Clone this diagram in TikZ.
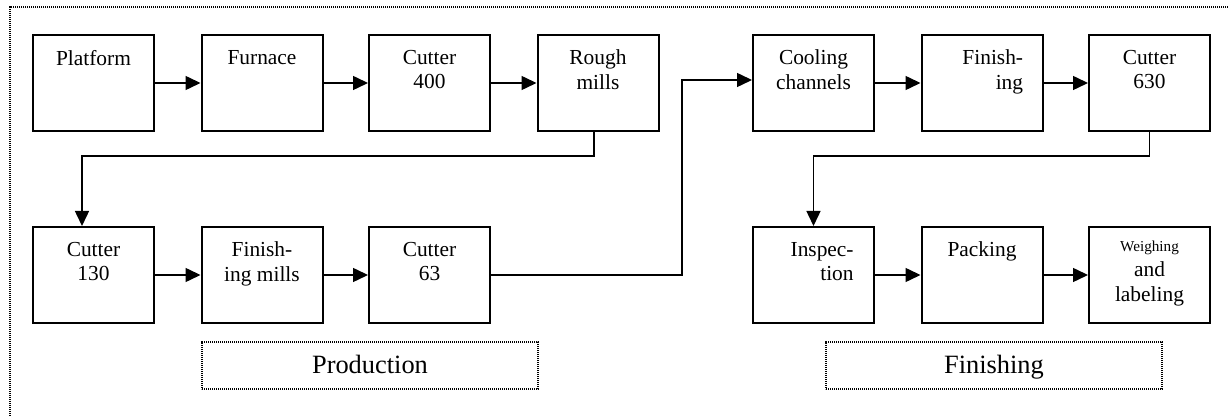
\documentclass[tikz,border=0pt]{standalone}
\usepackage{fontspec}
\setmainfont{Liberation Serif}
\usetikzlibrary{arrows.meta}

\tikzset{
  box/.style={draw, line width=1pt, minimum width=60.5pt, minimum height=48pt, inner sep=0pt},
  boxtext/.style={anchor=north, yshift=-7.8pt, align=center, inner sep=0pt,
    font=\fontsize{10.7}{12.4}\selectfont},
  conn/.style={line width=0.75pt, -{Triangle[length=7.5pt, width=7pt]}},
  tag/.style={draw, dash pattern=on 0.55pt off 0.45pt, line width=0.75pt, minimum width=168pt,
    minimum height=23.5pt, text height=1em, text depth=0.2em, font=\fontsize{13.2}{15}\selectfont},
  frame/.style={dash pattern=on 0.55pt off 0.45pt, line width=0.75pt}
}

\begin{document}
\begin{tikzpicture}[x=0.5pt, y=-0.5pt]
    \useasboundingbox (0,0) rectangle (1228,416);

    % outer frame
    \draw[frame] (1228,7) -- (10,7) -- (10,416);

    % production, top row
    \node[box] (plat) at (93.5,83) {};
    \node[boxtext] (plat-t) at (plat.north) {Platform};
    \node[box] (furn) at (262,83) {};
    \node[boxtext] (furn-t) at (furn.north) {Furnace};
    \node[box] (c400) at (429.5,83) {};
    \node[boxtext] (c400-t) at (c400.north) {Cutter\\400};
    \node[box] (rough) at (598,83) {};
    \node[boxtext] (rough-t) at (rough.north) {Rough\\mills};

    % production, bottom row
    \node[box] (c130) at (93.5,275) {};
    \node[boxtext] (c130-t) at (c130.north) {Cutter\\130};
    \node[box] (fmill) at (262,275) {};
    \node[boxtext] (fmill-t) at (fmill.north) {Finish-\\ing mills};
    \node[box] (c63) at (429.5,275) {};
    \node[boxtext] (c63-t) at (c63.north) {Cutter\\63};

    % finishing, top row
    \node[box] (cool) at (813.5,83) {};
    \node[boxtext] (cool-t) at (cool.north) {Cooling\\channels};
    \node[box] (fin) at (982,83) {};
    \node[boxtext, anchor=north east, align=right, xshift=-10pt] (fin-t) at (fin.north east) {Finish-\\ing};
    \node[box] (c630) at (1149.5,83) {};
    \node[boxtext] (c630-t) at (c630.north) {Cutter\\630};

    % finishing, bottom row
    \node[box] (insp) at (813.5,275) {};
    \node[boxtext, anchor=north east, align=right, xshift=-10.5pt] (insp-t) at (insp.north east) {Inspec-\\tion};
    \node[box] (pack) at (982,275) {};
    \node[boxtext] (pack-t) at (pack.north) {Packing};
    \node[box] (weigh) at (1149.5,275) {};
    \node[boxtext, yshift=0.3pt] (weigh-t) at (weigh.north) {{\fontsize{7.6}{9}\selectfont Weighing}\\and\\labeling};

    % arrows
    \draw[conn] (plat) -- (furn);
    \draw[conn] (furn) -- (c400);
    \draw[conn] (c400) -- (rough);
    \draw[conn] ([xshift=-2pt]rough.south) -- ++(0,-12pt) -| ([xshift=-5.75pt]c130.north);
    \draw[conn] (c130) -- (fmill);
    \draw[conn] (fmill) -- (c63);
    \draw[conn] (c63.east) -- ++(95.5pt,0) |- ([yshift=1.5pt]cool.west);
    \draw[conn] (cool) -- (fin);
    \draw[conn] (fin) -- (c630);
    \draw[conn] (c630.south) -- ++(0,-12pt) -| (insp.north);
    \draw[conn] (insp) -- (pack);
    \draw[conn] (pack) -- (weigh);

    % section tags
    \node[tag] (prod) at (370,365.5) {Production};
    \node[tag] (fini) at (994,365.5) {Finishing};

\end{tikzpicture}
\end{document}
